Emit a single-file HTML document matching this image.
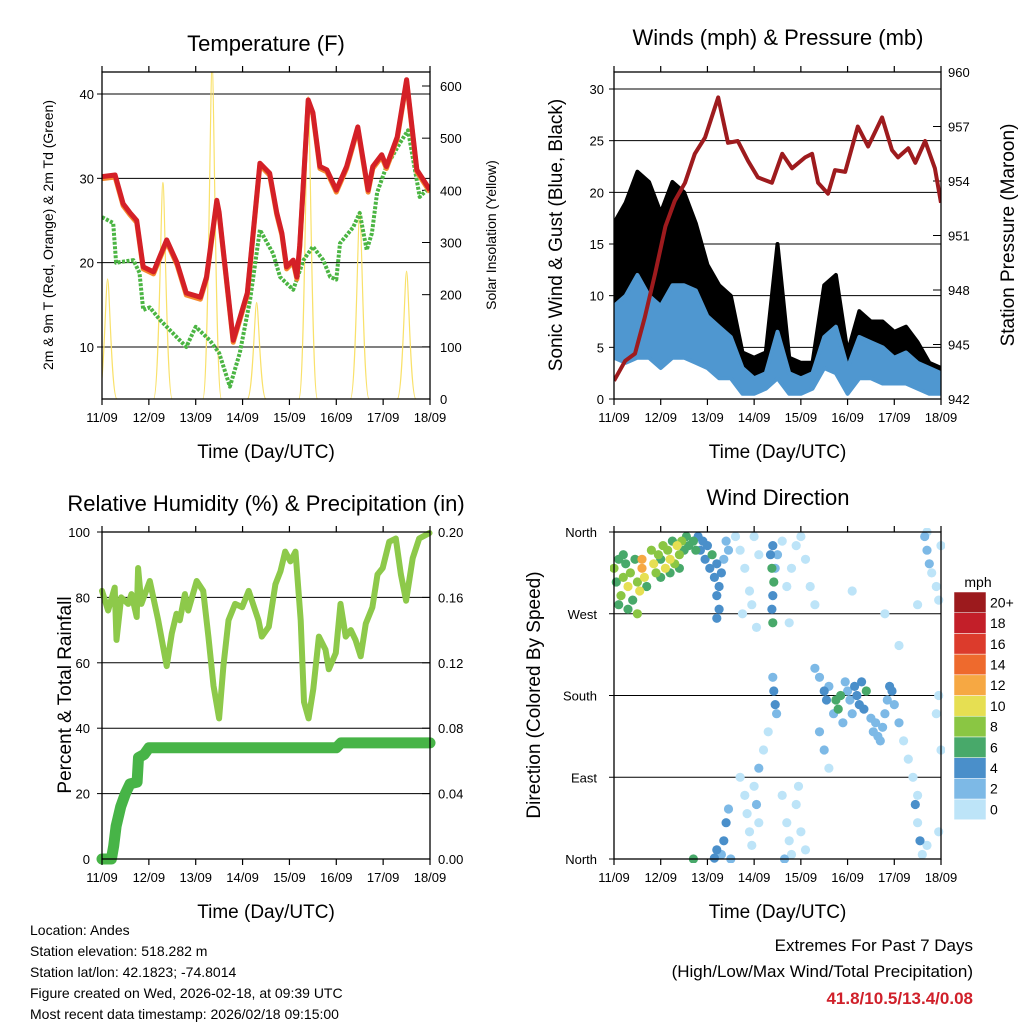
<!DOCTYPE html>
<html><head><meta charset="utf-8"><style>
body{margin:0;background:#fff;}
svg{display:block;font-family:"Liberation Sans",sans-serif;}
</style></head><body>
<svg id="c" width="1024" height="1024" viewBox="0 0 1024 1024">
<g id="g"></g>
<text x="30" y="935" font-size="14">Location: Andes</text>
<text x="30" y="956" font-size="14">Station elevation: 518.282 m</text>
<text x="30" y="977" font-size="14">Station lat/lon: 42.1823; -74.8014</text>
<text x="30" y="998" font-size="14">Figure created on Wed, 2026-02-18, at 09:39 UTC</text>
<text x="30" y="1019" font-size="14">Most recent data timestamp: 2026/02/18 09:15:00</text>
<text x="973" y="951" font-size="17" text-anchor="end">Extremes For Past 7 Days</text>
<text x="973" y="977" font-size="17" text-anchor="end">(High/Low/Max Wind/Total Precipitation)</text>
<text x="973" y="1004" font-size="17" font-weight="bold" fill="#d0202a" text-anchor="end">41.8/10.5/13.4/0.08</text>
</svg>
<script>
// ---- data ----
const dayLabels=["11/09","12/09","13/09","14/09","15/09","16/09","17/09","18/09"];
const tempDays=[0,0.28,0.45,0.6,0.74,0.88,1.1,1.38,1.6,1.8,2.1,2.23,2.45,2.5,2.8,3.1,3.37,3.58,3.73,3.84,3.94,4.08,4.16,4.22,4.4,4.5,4.65,4.8,5.0,5.22,5.46,5.68,5.78,5.97,6.07,6.3,6.5,6.72,7.0];
const tempVals=[30.2,30.4,27,25.9,25,19.5,18.9,22.7,20,16.4,15.9,18.3,27.4,26,10.8,16.4,31.8,30.6,25.9,23.5,19.5,20.3,18.3,22,39.3,37.8,31.4,31,28.6,31.4,36.1,28.6,31.4,32.8,31.4,34.9,41.7,31,28.6];
const dewDays=[0,0.24,0.3,0.67,0.8,0.88,1.02,1.24,1.52,1.8,2.0,2.3,2.5,2.73,2.94,3.16,3.37,3.65,3.8,4.08,4.3,4.5,4.72,4.87,5.0,5.08,5.36,5.5,5.65,5.76,5.87,6.07,6.36,6.53,6.78,7.0];
const dewVals=[25.4,24.7,20,20.3,18.8,14.4,14.7,13.2,11.6,10,12.4,10.8,9.3,5.3,9.3,15.6,23.9,21.1,18.3,16.8,20.3,21.9,20.3,18.3,18,22.3,24.2,25.9,21.5,23.5,28.3,31.4,34.2,35.7,27.8,29];
const solarDays=[0.12,1.3,2.35,3.3,4.4,5.5,6.5];
const solarPeaks=[230,415,640,185,580,360,245];
const presDays=[0,0.24,0.45,0.66,0.88,1.1,1.3,1.52,1.73,1.95,2.23,2.44,2.65,2.87,3.08,3.38,3.6,3.81,4.09,4.24,4.37,4.58,4.73,4.95,5.22,5.44,5.74,5.95,6.08,6.3,6.45,6.66,6.87,7.0];
const presVals=[943,944.1,944.5,946.5,948.9,951.5,952.9,953.9,955.5,956.4,958.6,956.1,956.2,955.1,954.2,953.9,955.5,954.7,955.3,955.5,953.9,953.3,954.6,954.5,957,955.9,957.5,955.7,955.3,955.8,955,956.2,954.7,952.8];
const windDays=[0,0.25,0.5,0.75,1,1.25,1.5,1.75,2,2.25,2.5,2.75,3,3.25,3.5,3.75,4,4.25,4.5,4.75,5,5.25,5.5,5.75,6,6.25,6.5,6.75,7];
const windLo=[4,3.5,4,4,3,4,4,3.5,3,2,2,0.5,0.5,1,2,0.5,0.5,1,3,2.5,0.5,2,2,1.5,1.5,1.5,1,0.5,0.5];
const windHi=[9,10,12,10,9,11,11,10.5,8,7,6,3,2,2.5,6.5,2.5,2,2.5,6,7,3,6,5.5,5,4,4.5,3.5,3,2.5];
const gustLo=[8,8,10,9,7,10,9,8,6,5,4,2,1.5,2,4,1.5,1,1.5,5,4,1.5,4,3.5,3,3,3,2,1.5,1];
const gustHi=[17,19,22,21,18,21,20,17,13,11,10,4.5,4,4.5,15,4,3.5,3.5,11,12,4.5,8.5,7.5,7.5,6.5,7,5.5,3.5,3];
const rhDays=[0,0.13,0.27,0.31,0.41,0.56,0.63,0.74,0.77,0.84,1.02,1.2,1.38,1.49,1.59,1.66,1.77,1.84,2.02,2.16,2.27,2.38,2.5,2.59,2.7,2.84,2.99,3.13,3.34,3.41,3.56,3.7,3.81,3.91,4.02,4.13,4.24,4.31,4.41,4.51,4.63,4.77,4.84,4.99,5.09,5.2,5.31,5.41,5.52,5.63,5.77,5.88,5.99,6.13,6.27,6.38,6.49,6.63,6.77,6.99];
const rhVals=[82,76,83,67,80,78,81,74,89,78,85,73,59,69,75,73,81,76,85,82,68,53,43,59,73,78,77,82,73,68,71,84,88,94,91,94,73,48,43,52,68,64,58,63,78,68,70,67,62,72,77,87,89,97,98,87,79,92,98,99.7];
const pcpDays=[0,0.2,0.25,0.3,0.4,0.5,0.6,0.75,0.78,0.9,1.0,5.0,5.1,7.0];
const pcpVals=[0,0,0.008,0.02,0.032,0.04,0.046,0.047,0.062,0.064,0.068,0.068,0.071,0.071];
const dirDays=[0,0.05,0.1,0.15,0.2,0.25,0.3,0.35,0.4,0.45,0.5,0.55,0.6,0.65,0.7,0.1,0.3,0.5,0.2,0.6,
0.8,0.85,0.9,0.95,1,1.05,1.1,1.15,1.2,1.25,1.3,1.35,1.4,1.45,1.5,1.55,1.6,1.7,1.75,1,1.2,1.4,
1.8,1.85,1.9,1.95,2,2.05,2.1,2.15,2.2,2.25,2.3,2.35,2.2,2.25,2.2,2.4,2.45,
2.6,2.7,2.8,2.9,3,3.1,2.95,3.05,2.75,
3.35,3.38,3.4,3.42,3.4,3.38,3.4,3.45,3.5,
3.6,3.7,3.8,3.9,4,4.1,4.2,4.3,3.75,5.1,5.8,6.5,6.1,
6.65,6.7,6.75,6.8,6.9,6.95,7,6.7,
4.3,4.4,4.5,4.55,4.6,4.7,4.75,4.8,4.85,4.9,4.95,5,5.05,5.1,5.15,5.2,5.25,5.3,5.35,5.4,5.5,5.55,5.6,5.65,5.7,5.75,5.8,5.85,5.9,5.95,6,6.1,6.2,6.3,6.4,6.5,4.4,4.5,4.6,6.9,6.95,7,
3.4,3.42,3.45,3.48,3.3,3.2,
2.15,2.2,2.3,2.35,2.4,2.45,1.7,2.5,2.7,2.8,2.85,2.9,2.95,3,3.05,3.1,3.1,3.6,3.7,3.75,3.8,3.9,3.95,4,4.1,3.65,6.45,6.5,6.55,6.6,6.7,6.95];
const dirVals=[320,305,330,290,310,325,300,315,285,330,305,295,320,310,300,280,275,270,335,330,
340,325,315,335,330,345,320,340,330,350,325,345,335,350,340,355,345,350,340,310,315,320,
355,340,350,330,345,320,335,310,325,300,315,330,290,275,265,350,340,
355,340,320,295,355,335,280,255,270,
335,320,345,305,290,275,260,320,335,
350,300,320,345,355,330,300,280,260,295,270,280,235,
355,340,325,315,300,285,345,360,
210,200,185,175,190,160,175,165,180,150,195,185,175,160,190,180,170,195,165,185,155,140,150,135,130,145,160,175,190,185,170,150,130,110,90,70,140,120,100,160,180,120,
200,185,170,160,140,120,
1,10,5,20,40,55,0,0,90,70,50,30,15,80,60,40,100,70,40,20,5,60,80,30,10,0,60,40,20,5,15,30];
const dirSpd=[8,7,6,8,9,7,10,8,7,6,9,10,12,10,7,6,7,8,6,12,
8,10,8,9,7,8,10,9,10,7,8,10,9,8,7,6,7,6,6,6,6,7,
5,4,5,5,4,5,6,4,5,4,4,3,4,4,4,2,2,
1,1,1,1,1,1,0,1,1,
4,6,4,6,4,4,6,3,2,
1,1,1,1,1,1,1,1,0,0,1,1,1,
2,2,2,1,0,1,1,1,
3,3,4,4,3,3,6,6,6,3,2,2,3,2,4,4,4,4,4,6,3,2,3,2,3,2,2,3,4,4,3,2,1,1,1,1,2,2,1,1,1,1,
2,4,4,2,1,1,
4,4,3,4,4,3,7,3,1,1,1,1,1,1,2,1,2,1,1,1,1,1,1,1,1,3,4,1,4,1,1,1];
const spdColors=["#bde4f8","#7db9e6","#4a8fca","#48a96a","#8ac643","#e6df52","#f6a843","#ee6a2d","#dc3b2c","#c31f29","#9c1a1d"];
const spdLabels=["0","2","4","6","8","10","12","14","16","18","20+"];

// ---- helpers ----
const NS="http://www.w3.org/2000/svg";
const root=document.getElementById('g');
function mk(tag,attrs,parent){const e=document.createElementNS(NS,tag);for(const k in attrs)e.setAttribute(k,attrs[k]);(parent||root).appendChild(e);return e;}
function txt(x,y,s,size,anchor,rot){const e=mk('text',{x:x,y:y,'font-size':size,'text-anchor':anchor||'middle'});if(rot)e.setAttribute('transform','rotate(-90 '+x+' '+y+')');e.textContent=s;return e;}
function scale(d0,d1,r0,r1){return v=>r0+(v-d0)*(r1-r0)/(d1-d0);}
function pathOf(xs,ys,fx,fy){return xs.map((v,i)=>(i?'L':'M')+fx(v).toFixed(1)+','+fy(ys[i]).toFixed(1)).join('');}

function frame(L,T,R,B,name){
  const f=mk('rect',{x:L,y:T,width:R-L,height:B-T,fill:'none',stroke:'#000','stroke-width':1.3});
  
  
  const fx=scale(0,7,L,R);
  dayLabels.forEach((s,i)=>{
    const x=fx(i);
    mk('line',{x1:x,y1:B,x2:x,y2:B+6,stroke:'#000','stroke-width':1.2});
    mk('line',{x1:x,y1:T,x2:x,y2:T-6,stroke:'#000','stroke-width':1.2});
    const t=txt(x,B+23,s,13);
    
    
  });
  const xt=txt((L+R)/2,B+59,'Time (Day/UTC)',19);
  
  
  return fx;
}
function grid(L,R,y){mk('line',{x1:L,y1:y,x2:R,y2:y,stroke:'#000','stroke-width':1});}

// ===== Panel 1: Temperature =====
(function(){
  const L=102,T=72,R=430,B=399;
  const fy=scale(10,40,347,94), fs=scale(0,600,399,86);
  const fx=scale(0,7,L,R);
  [10,20,30,40].forEach(v=>{grid(L,R,fy(v));const t=txt(L-8,fy(v)+5,String(v),13,'end');mk('line',{x1:L-5,y1:fy(v),x2:L,y2:fy(v),stroke:'#000'});});
  [0,100,200,300,400,500,600].forEach(v=>{const t=txt(R+10,fs(v)+5,String(v),13,'start');mk('line',{x1:R-8,y1:fs(v),x2:R,y2:fs(v),stroke:'#000'});});
  const clip=mk('clipPath',{id:'cp1'});mk('rect',{x:L,y:T,width:R-L,height:B-T},clip);
  const g=mk('g',{'clip-path':'url(#cp1)'});
  solarDays.forEach((d,i)=>{
    const x=fx(d),w=0.2*46.9,yb=fs(0),yp=fs(solarPeaks[i]);
    const p=mk('path',{d:'M'+(x-w)+','+yb+' C'+(x-w*0.4)+','+yb+' '+(x-w*0.2)+','+yp+' '+x+','+yp+' C'+(x+w*0.2)+','+yp+' '+(x+w*0.4)+','+yb+' '+(x+w)+','+yb,fill:'none',stroke:'#f9e16a','stroke-width':1.2},g);
    
    
  });
  const dw=mk('path',{d:pathOf(dewDays,dewVals,fx,fy),fill:'none',stroke:'#4bb543','stroke-width':4,'stroke-dasharray':'3 1.5','stroke-linejoin':'round'},g);
  
  
  const to=mk('path',{d:pathOf(tempDays,tempVals,fx,fy),fill:'none',stroke:'#f5892f','stroke-width':5,'stroke-linejoin':'round',transform:'translate(0,2)'},g);
  
  
  const tr=mk('path',{d:pathOf(tempDays,tempVals,fx,fy),fill:'none',stroke:'#d42027','stroke-width':5,'stroke-linejoin':'round'},g);
  
  
  frame(L,T,R,B,'temp');
  const t1=txt(266,51,'Temperature (F)',22);
  const t2=txt(53,235,'2m & 9m T (Red, Orange) & 2m Td (Green)',14,'middle',true);
  const t3=txt(496,235,'Solar Insolation (Yellow)',14,'middle',true);
})();

// ===== Panel 2: Winds =====
(function(){
  const L=614,T=72,R=941,B=399;
  const fy=scale(0,30,399,89), fp=scale(942,960,399,72);
  const fx=scale(0,7,L,R);
  [0,5,10,15,20,25,30].forEach(v=>{grid(L,R,fy(v));const t=txt(L-10,fy(v)+5,String(v),13,'end');mk('line',{x1:L-5,y1:fy(v),x2:L,y2:fy(v),stroke:'#000'});});
  [942,945,948,951,954,957,960].forEach(v=>{const t=txt(R+7,fp(v)+5,String(v),13,'start');mk('line',{x1:R-8,y1:fp(v),x2:R,y2:fp(v),stroke:'#000'});});
  const clip=mk('clipPath',{id:'cp2'});mk('rect',{x:L,y:T,width:R-L,height:B-T},clip);
  const g=mk('g',{'clip-path':'url(#cp2)'});
  function band(lo,hi,color,name){
    const top=windDays.map((d,i)=>(i?'L':'M')+fx(d).toFixed(1)+','+fy(hi[i]).toFixed(1)).join('');
    const bot=windDays.slice().reverse().map((d,j)=>{const i=windDays.length-1-j;return 'L'+fx(d).toFixed(1)+','+fy(lo[i]).toFixed(1);}).join('');
    const p=mk('path',{d:top+bot+'Z',fill:color,stroke:color,'stroke-width':4,'stroke-linejoin':'round'},g);
    
    
  }
  band(gustLo,gustHi,'#000','gust-points');
  band(windLo,windHi,'#4f97d0','wind-speed-line');
  const pr=mk('path',{d:pathOf(presDays,presVals,fx,fp),fill:'none',stroke:'#9e1b1e','stroke-width':4,'stroke-linejoin':'round'},g);
  
  
  frame(L,T,R,B,'wind');
  const t1=txt(778,45,'Winds (mph) & Pressure (mb)',22);
  const t2=txt(562,235,'Sonic Wind & Gust (Blue, Black)',19,'middle',true);
  const t3=txt(1014,235,'Station Pressure (Maroon)',19,'middle',true);
})();

// ===== Panel 3: RH & precip =====
(function(){
  const L=102,T=532,R=430,B=859;
  const fy=scale(0,100,859,532), fp=scale(0,0.2,859,532);
  const fx=scale(0,7,L,R);
  [0,20,40,60,80,100].forEach(v=>{grid(L,R,fy(v));const t=txt(L-12,fy(v)+5,String(v),13,'end');mk('line',{x1:L-5,y1:fy(v),x2:L,y2:fy(v),stroke:'#000'});});
  ['0.00','0.04','0.08','0.12','0.16','0.20'].forEach(s=>{const v=parseFloat(s);const t=txt(R+8,fp(v)+5,s,13,'start');mk('line',{x1:R-8,y1:fp(v),x2:R,y2:fp(v),stroke:'#000'});});
  const rh=mk('path',{d:pathOf(rhDays,rhVals,fx,fy),fill:'none',stroke:'#8dc94a','stroke-width':6,'stroke-linejoin':'round','stroke-linecap':'round'});
  
  
  const pc=mk('path',{d:pathOf(pcpDays,pcpVals,fx,fp),fill:'none',stroke:'#47b447','stroke-width':11,'stroke-linejoin':'round','stroke-linecap':'round'});
  
  
  frame(L,T,R,B,'rh');
  const t1=txt(266,511,'Relative Humidity (%) & Precipitation (in)',22);
  const t2=txt(71,695,'Percent & Total Rainfall',19,'middle',true);
})();

// ===== Panel 4: Wind direction =====
(function(){
  const L=614,T=532,R=941,B=859;
  const fy=scale(0,360,859,532);
  const fx=scale(0,7,L,R);
  [[0,'North'],[90,'East'],[180,'South'],[270,'West'],[360,'North']].forEach(a=>{grid(L,R,fy(a[0]));const t=txt(L-17,fy(a[0])+5,a[1],13,'end');mk('line',{x1:L-5,y1:fy(a[0]),x2:L,y2:fy(a[0]),stroke:'#000'});});
  const clip=mk('clipPath',{id:'cp4'});mk('rect',{x:L-4,y:T-4,width:R-L+8,height:B-T+8},clip);
  const g=mk('g',{'clip-path':'url(#cp4)'});
  const order=dirDays.map((d,i)=>i).sort((a,b)=>dirSpd[a]-dirSpd[b]);
  order.forEach(i=>{
    const c=mk('circle',{cx:fx(dirDays[i]).toFixed(1),cy:fy(dirVals[i]).toFixed(1),r:4.6,fill:spdColors[Math.min(10,Math.floor(dirSpd[i]/2))]},g);
    
    
  });
  frame(L,T,R,B,'dir');
  const t1=txt(778,505,'Wind Direction',22);
  const t2=txt(540,695,'Direction (Colored By Speed)',19,'middle',true);
  const cbT=592,h=20.7;
  const lab=txt(978,587,'mph',14);
  spdColors.forEach((col,i)=>{
    const y=cbT+(10-i)*h;
    const r=mk('rect',{x:954,y:y,width:32,height:h,fill:col,stroke:'#fff','stroke-width':0.5});
    
    
    const t=txt(990,y+h/2+5,spdLabels[i],14,'start');
    
    
  });
})();
</script>
</body></html>
